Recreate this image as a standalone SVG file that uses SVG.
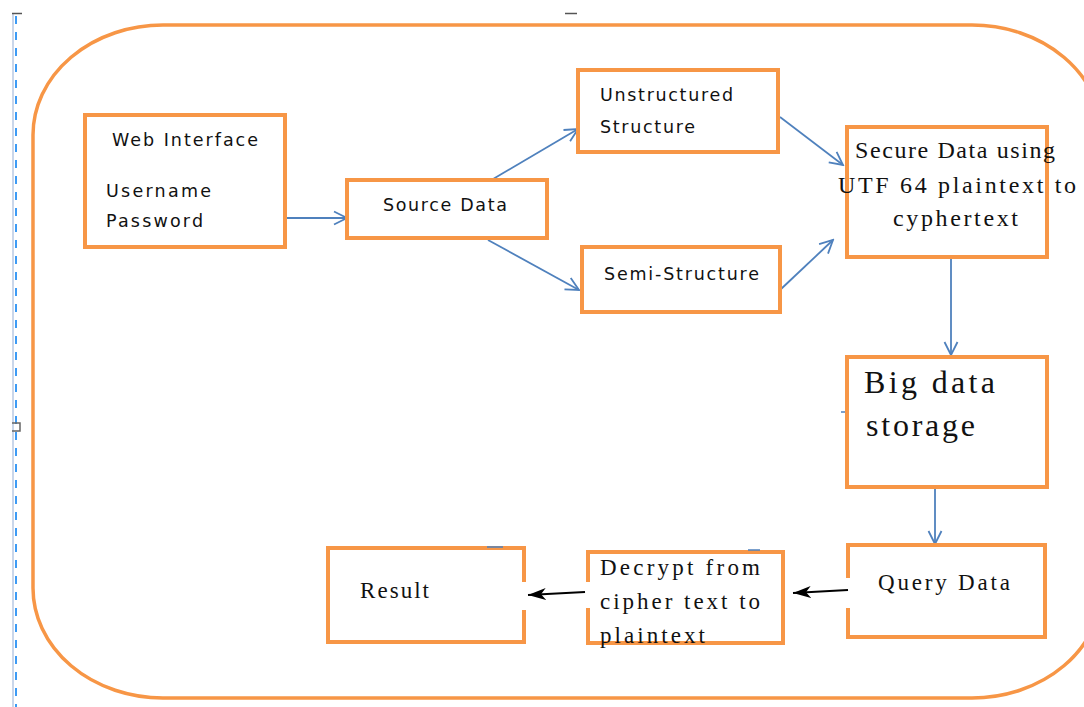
<svg xmlns="http://www.w3.org/2000/svg" width="1084" height="707" viewBox="0 0 1084 707">
<style>
.box{fill:#fff;stroke:#F79646;stroke-width:4}
.gapped{fill:none;stroke:#F79646;stroke-width:4}
.sans{font-family:"DejaVu Sans","Verdana",sans-serif;font-size:17.5px;fill:#111}
.serif{font-family:"Liberation Serif","Times New Roman",serif;fill:#111}
.blue{stroke:#4F81BD;stroke-width:1.8;fill:none}
.black{stroke:#000;stroke-width:1.8;fill:none}
</style>
<defs>
<marker id="open" markerUnits="userSpaceOnUse" markerWidth="16" markerHeight="16" refX="14" refY="7" orient="auto" viewBox="0 0 16 14">
<path d="M1,0.5 L14,7 L1,13.5" fill="none" stroke="#4F81BD" stroke-width="1.8"/>
</marker>
<marker id="solid" markerUnits="userSpaceOnUse" markerWidth="20" markerHeight="14" refX="18" refY="7" orient="auto" viewBox="0 0 20 14">
<path d="M0,1 L18,7 L0,13 L5,7 Z" fill="#000"/>
</marker>
</defs>
<rect width="1084" height="707" fill="#fff"/>
<line x1="13" y1="14" x2="13" y2="707" stroke="#C9D6EA" stroke-width="2"/>
<line x1="16" y1="16" x2="16" y2="707" stroke="#3D9BF5" stroke-width="2" stroke-dasharray="8 8"/>
<line x1="12" y1="13.5" x2="22" y2="13.5" stroke="#555" stroke-width="1.5"/>
<path d="M12,423 H20 V431 H12" fill="none" stroke="#666" stroke-width="1.5"/>
<line x1="565" y1="13.5" x2="577" y2="13.5" stroke="#555" stroke-width="1.5"/>
<rect x="33" y="25" width="1069" height="673" rx="130" ry="110" fill="none" stroke="#F79646" stroke-width="3.5"/>
<g id="connectors">
<line class="blue" x1="287" y1="218" x2="347" y2="218" marker-end="url(#open)"/>
<line class="blue" x1="488" y1="182" x2="578" y2="129" marker-end="url(#open)"/>
<line class="blue" x1="488" y1="240" x2="579" y2="290" marker-end="url(#open)"/>
<line class="blue" x1="780" y1="117" x2="843" y2="165" marker-end="url(#open)"/>
<line class="blue" x1="780" y1="290" x2="833" y2="240" marker-end="url(#open)"/>
<line class="blue" x1="951" y1="259" x2="951" y2="355" marker-end="url(#open)"/>
<line class="blue" x1="935" y1="489" x2="935" y2="544" marker-end="url(#open)"/>
<line class="black" x1="848" y1="590" x2="793" y2="593" marker-end="url(#solid)"/>
<line class="black" x1="585" y1="592" x2="528" y2="595" marker-end="url(#solid)"/>
</g>
<g id="web-interface">
<rect class="box" x="85" y="115" width="200" height="132"/>
<text class="sans" x="112" y="146" textLength="146" lengthAdjust="spacing">Web Interface</text>
<text class="sans" x="106" y="197" textLength="105" lengthAdjust="spacing">Username</text>
<text class="sans" x="106" y="227" textLength="97" lengthAdjust="spacing">Password</text>
</g>
<g id="source-data">
<rect class="box" x="347" y="180" width="200" height="58"/>
<text class="sans" x="383" y="211" textLength="124" lengthAdjust="spacing">Source Data</text>
</g>
<g id="unstructured">
<rect class="box" x="578" y="70" width="200" height="82"/>
<text class="sans" x="600" y="101" textLength="133" lengthAdjust="spacing">Unstructured</text>
<text class="sans" x="600" y="133" textLength="95" lengthAdjust="spacing">Structure</text>
</g>
<g id="semi-structure">
<rect class="box" x="582" y="247" width="198" height="65"/>
<text class="sans" x="604" y="280" textLength="155" lengthAdjust="spacing">Semi-Structure</text>
</g>
<g id="secure-data">
<rect class="box" x="847" y="127" width="200" height="130"/>
<text class="serif" font-size="24" x="855" y="158" textLength="200" lengthAdjust="spacing">Secure Data using</text>
<text class="serif" font-size="24" x="838" y="193" textLength="238" lengthAdjust="spacing">UTF 64 plaintext to</text>
<text class="serif" font-size="24" x="893" y="226" textLength="125" lengthAdjust="spacing">cyphertext</text>
</g>
<g id="big-data-storage">
<rect class="box" x="847" y="357" width="200" height="130"/>
<line x1="841" y1="412" x2="845" y2="412" stroke="#4F81BD" stroke-width="1.5"/>
<text class="serif" font-size="32" x="864" y="393" textLength="131" lengthAdjust="spacing">Big data</text>
<text class="serif" font-size="32" x="866" y="436" textLength="109" lengthAdjust="spacing">storage</text>
</g>
<g id="query-data">
<path class="gapped" d="M848,578 V545 H1045 V637 H848 V608"/>
<text class="serif" font-size="23" x="878" y="590" textLength="132" lengthAdjust="spacing">Query Data</text>
</g>
<g id="decrypt">
<path class="gapped" d="M588,582 V552 H783 V643 H588 V608"/>
<line x1="748" y1="550" x2="760" y2="550" stroke="#4F81BD" stroke-width="1.5"/>
<text class="serif" font-size="23" x="600" y="575" textLength="160" lengthAdjust="spacing">Decrypt from</text>
<text class="serif" font-size="23" x="600" y="609" textLength="160" lengthAdjust="spacing">cipher text to</text>
<text class="serif" font-size="23" x="600" y="643" textLength="105" lengthAdjust="spacing">plaintext</text>
</g>
<g id="result">
<path class="gapped" d="M524,582 V548 H328 V642 H524 V610"/>
<line x1="487" y1="547" x2="503" y2="547" stroke="#4F81BD" stroke-width="1.5"/>
<text class="serif" font-size="23" x="360" y="598" textLength="69" lengthAdjust="spacing">Result</text>
</g>
</svg>
